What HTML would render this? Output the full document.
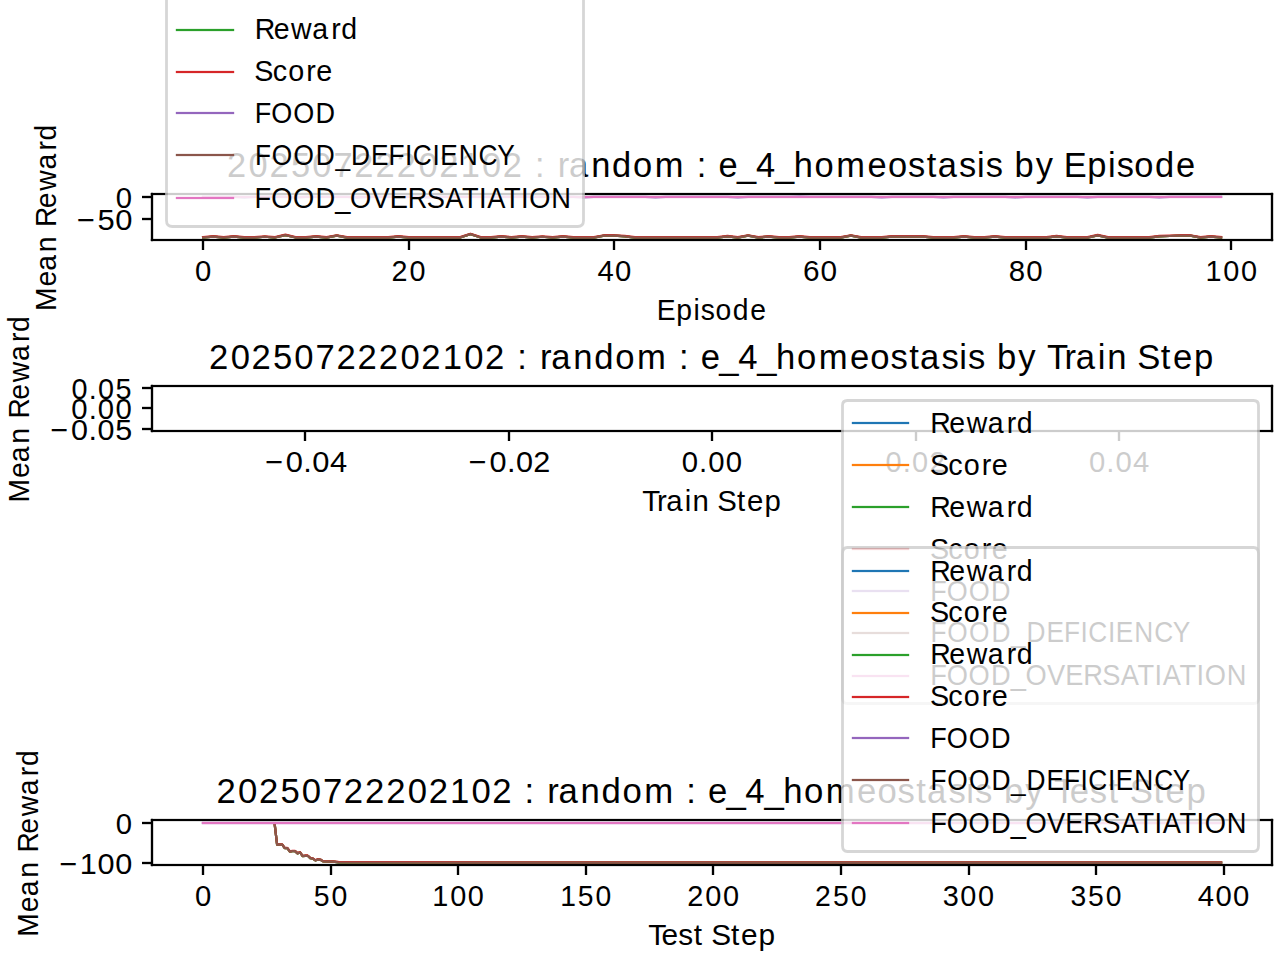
<!DOCTYPE html>
<html><head><meta charset="utf-8"><title>20250722202102 : random : e_4_homeostasis</title>
<style>html,body{margin:0;padding:0;background:#fff;width:1280px;height:960px;overflow:hidden}
svg text{font-family:"Liberation Sans", sans-serif;font-kerning:none}</style></head>
<body>

<svg width="1280" height="960" viewBox="0 0 460.8 345.6" style="display:block">
<defs>
<style type="text/css">*{stroke-linejoin: round; stroke-linecap: butt}</style>
</defs>
<g>
<g>
<path d="M 0 345.6
L 460.8 345.6
L 460.8 0
L 0 0
z
" style="fill: #ffffff"/>
</g>
<g>
<g>
<path d="M 54.792 86.364
L 457.92 86.364
L 457.92 69.804
L 54.792 69.804
z
" style="fill: #ffffff"/>
</g>
<g>
<g>
<g>
<g>
<path d="M 73.080 86.400 L 73.080 90.000" style="stroke: #000000; stroke-width: 0.8"/><path d="M 73.080 86.400 L 73.080 90.000" style="stroke: #000000; stroke-width: 0.82; stroke-opacity: 0.44"/>
</g>
</g>
<g>
<text style="font-size:10.700px" x="-2.992" y="0.000" transform="translate(73.116 101.284) rotate(-0) scale(0.985 1)">0</text>
</g>
</g>
<g>
<g>
<g>
<path d="M 147.240 86.400 L 147.240 90.000" style="stroke: #000000; stroke-width: 0.8"/><path d="M 147.240 86.400 L 147.240 90.000" style="stroke: #000000; stroke-width: 0.82; stroke-opacity: 0.44"/>
</g>
</g>
<g>
<text style="font-size:10.700px" x="-6.406 0.297" y="0.000" transform="translate(147.152 101.284) rotate(-0) scale(0.967 1)">20</text>
</g>
</g>
<g>
<g>
<g>
<path d="M 221.040 86.400 L 221.040 90.000" style="stroke: #000000; stroke-width: 0.8"/><path d="M 221.040 86.400 L 221.040 90.000" style="stroke: #000000; stroke-width: 0.82; stroke-opacity: 0.44"/>
</g>
</g>
<g>
<text style="font-size:10.700px" x="-6.213 0.239" y="0.000" transform="translate(221.189 101.284) rotate(-0) scale(0.985 1)">40</text>
</g>
</g>
<g>
<g>
<g>
<path d="M 295.200 86.400 L 295.200 90.000" style="stroke: #000000; stroke-width: 0.8"/><path d="M 295.200 86.400 L 295.200 90.000" style="stroke: #000000; stroke-width: 0.82; stroke-opacity: 0.44"/>
</g>
</g>
<g>
<text style="font-size:10.700px" x="-6.158 0.185" y="0.000" transform="translate(295.225 101.284) rotate(-0) scale(1.002 1)">60</text>
</g>
</g>
<g>
<g>
<g>
<path d="M 369.360 86.400 L 369.360 90.000" style="stroke: #000000; stroke-width: 0.8"/><path d="M 369.360 86.400 L 369.360 90.000" style="stroke: #000000; stroke-width: 0.82; stroke-opacity: 0.44"/>
</g>
</g>
<g>
<text style="font-size:10.700px" x="-6.195 0.222" y="0.000" transform="translate(369.261 101.284) rotate(-0) scale(0.990 1)">80</text>
</g>
</g>
<g>
<g>
<g>
<path d="M 443.160 86.400 L 443.160 90.000" style="stroke: #000000; stroke-width: 0.8"/><path d="M 443.160 86.400 L 443.160 90.000" style="stroke: #000000; stroke-width: 0.82; stroke-opacity: 0.44"/>
</g>
</g>
<g>
<text style="font-size:10.700px" x="-9.600 -3.004 3.539" y="0.000" transform="translate(443.298 101.284) rotate(-0) scale(0.971 1)">100</text>
</g>
</g>
<g>
<text style="font-size:10.700px" x="-20.869 -13.539 -7.035 -4.267 1.300 7.764 14.402" y="0.000" transform="translate(256.356 115.364) rotate(-0) scale(0.953 1)">Episode</text>
</g>
</g>
<g>
<g>
<g>
<g>
<path d="M 54.720 78.840 L 51.120 78.840" style="stroke: #000000; stroke-width: 0.8"/><path d="M 54.720 78.840 L 51.120 78.840" style="stroke: #000000; stroke-width: 0.82; stroke-opacity: 0.44"/>
</g>
</g>
<g>
<text style="font-size:10.700px" x="-19.378 -12.192 -6.050" y="0.000" transform="translate(47.792 82.841) rotate(-0) scale(1.040 1)">−50</text>
</g>
</g>
<g>
<g>
<g>
<path d="M 54.720 70.920 L 51.120 70.920" style="stroke: #000000; stroke-width: 0.8"/><path d="M 54.720 70.920 L 51.120 70.920" style="stroke: #000000; stroke-width: 0.82; stroke-opacity: 0.44"/>
</g>
</g>
<g>
<text style="font-size:10.700px" x="-6.235" y="0.000" transform="translate(47.792 74.846) rotate(-0) scale(0.985 1)">0</text>
</g>
</g>
<g>
<text style="font-size:10.700px" x="-35.637 -26.383 -20.349 -13.396 -6.938 -3.826 3.311 9.918 17.928 25.093 28.922" y="-0.360" transform="translate(20.527 78.084) rotate(-90) scale(0.951 1)">Mean Reward</text>
</g>
</g>
<g>
<path d="M 73.116 85.516
L 76.817 85.180
L 80.519 85.516
L 84.221 85.180
L 87.923 85.516
L 91.625 85.516
L 95.326 85.236
L 99.028 85.516
L 102.730 84.621
L 106.432 85.516
L 110.134 85.516
L 113.836 85.180
L 117.537 85.516
L 121.239 84.845
L 124.941 85.516
L 128.643 85.516
L 132.345 85.516
L 136.046 85.516
L 139.748 85.516
L 143.450 85.180
L 147.152 85.516
L 150.854 85.516
L 154.556 85.516
L 158.257 85.516
L 161.959 85.516
L 165.661 85.516
L 169.363 84.285
L 173.065 85.516
L 176.766 85.516
L 180.468 85.180
L 184.170 85.516
L 187.872 85.180
L 191.574 85.516
L 195.276 85.236
L 198.977 85.516
L 202.679 85.180
L 206.381 85.516
L 210.083 85.516
L 213.785 85.516
L 217.486 84.845
L 221.188 84.845
L 224.890 85.068
L 228.592 85.516
L 232.294 85.516
L 235.996 85.516
L 239.697 85.516
L 243.399 85.516
L 247.101 85.516
L 250.803 85.516
L 254.505 85.516
L 258.206 85.516
L 261.908 85.068
L 265.610 85.516
L 269.312 84.845
L 273.014 85.516
L 276.716 85.180
L 280.417 85.516
L 284.119 85.516
L 287.821 85.180
L 291.523 85.516
L 295.225 85.516
L 298.926 85.516
L 302.628 85.516
L 306.330 84.845
L 310.032 85.516
L 313.734 85.516
L 317.436 85.516
L 321.137 85.180
L 324.839 85.180
L 328.541 85.180
L 332.243 85.180
L 335.945 85.516
L 339.646 85.516
L 343.348 85.516
L 347.050 85.180
L 350.752 85.516
L 354.454 85.516
L 358.156 85.180
L 361.857 85.516
L 365.559 85.516
L 369.261 85.516
L 372.963 85.516
L 376.665 85.516
L 380.366 85.068
L 384.068 85.516
L 387.770 85.516
L 391.472 85.516
L 395.174 84.733
L 398.876 85.516
L 402.577 85.516
L 406.279 85.516
L 409.981 85.516
L 413.683 85.516
L 417.385 85.068
L 421.086 84.956
L 424.788 84.845
L 428.490 84.845
L 432.192 85.516
L 435.894 85.180
L 439.596 85.516
" clip-path="url(#p5f2e82f7fc)" style="fill: none; stroke: #1f77b4; stroke-width: 0.8; stroke-linecap: square"/>
</g>
<g>
<path d="M 73.116 85.516
L 76.817 85.180
L 80.519 85.516
L 84.221 85.180
L 87.923 85.516
L 91.625 85.516
L 95.326 85.236
L 99.028 85.516
L 102.730 84.621
L 106.432 85.516
L 110.134 85.516
L 113.836 85.180
L 117.537 85.516
L 121.239 84.845
L 124.941 85.516
L 128.643 85.516
L 132.345 85.516
L 136.046 85.516
L 139.748 85.516
L 143.450 85.180
L 147.152 85.516
L 150.854 85.516
L 154.556 85.516
L 158.257 85.516
L 161.959 85.516
L 165.661 85.516
L 169.363 84.285
L 173.065 85.516
L 176.766 85.516
L 180.468 85.180
L 184.170 85.516
L 187.872 85.180
L 191.574 85.516
L 195.276 85.236
L 198.977 85.516
L 202.679 85.180
L 206.381 85.516
L 210.083 85.516
L 213.785 85.516
L 217.486 84.845
L 221.188 84.845
L 224.890 85.068
L 228.592 85.516
L 232.294 85.516
L 235.996 85.516
L 239.697 85.516
L 243.399 85.516
L 247.101 85.516
L 250.803 85.516
L 254.505 85.516
L 258.206 85.516
L 261.908 85.068
L 265.610 85.516
L 269.312 84.845
L 273.014 85.516
L 276.716 85.180
L 280.417 85.516
L 284.119 85.516
L 287.821 85.180
L 291.523 85.516
L 295.225 85.516
L 298.926 85.516
L 302.628 85.516
L 306.330 84.845
L 310.032 85.516
L 313.734 85.516
L 317.436 85.516
L 321.137 85.180
L 324.839 85.180
L 328.541 85.180
L 332.243 85.180
L 335.945 85.516
L 339.646 85.516
L 343.348 85.516
L 347.050 85.180
L 350.752 85.516
L 354.454 85.516
L 358.156 85.180
L 361.857 85.516
L 365.559 85.516
L 369.261 85.516
L 372.963 85.516
L 376.665 85.516
L 380.366 85.068
L 384.068 85.516
L 387.770 85.516
L 391.472 85.516
L 395.174 84.733
L 398.876 85.516
L 402.577 85.516
L 406.279 85.516
L 409.981 85.516
L 413.683 85.516
L 417.385 85.068
L 421.086 84.956
L 424.788 84.845
L 428.490 84.845
L 432.192 85.516
L 435.894 85.180
L 439.596 85.516
" clip-path="url(#p5f2e82f7fc)" style="fill: none; stroke: #ff7f0e; stroke-width: 0.8; stroke-linecap: square"/>
</g>
<g>
<path d="M 73.116 85.516
L 76.817 85.180
L 80.519 85.516
L 84.221 85.180
L 87.923 85.516
L 91.625 85.516
L 95.326 85.236
L 99.028 85.516
L 102.730 84.621
L 106.432 85.516
L 110.134 85.516
L 113.836 85.180
L 117.537 85.516
L 121.239 84.845
L 124.941 85.516
L 128.643 85.516
L 132.345 85.516
L 136.046 85.516
L 139.748 85.516
L 143.450 85.180
L 147.152 85.516
L 150.854 85.516
L 154.556 85.516
L 158.257 85.516
L 161.959 85.516
L 165.661 85.516
L 169.363 84.285
L 173.065 85.516
L 176.766 85.516
L 180.468 85.180
L 184.170 85.516
L 187.872 85.180
L 191.574 85.516
L 195.276 85.236
L 198.977 85.516
L 202.679 85.180
L 206.381 85.516
L 210.083 85.516
L 213.785 85.516
L 217.486 84.845
L 221.188 84.845
L 224.890 85.068
L 228.592 85.516
L 232.294 85.516
L 235.996 85.516
L 239.697 85.516
L 243.399 85.516
L 247.101 85.516
L 250.803 85.516
L 254.505 85.516
L 258.206 85.516
L 261.908 85.068
L 265.610 85.516
L 269.312 84.845
L 273.014 85.516
L 276.716 85.180
L 280.417 85.516
L 284.119 85.516
L 287.821 85.180
L 291.523 85.516
L 295.225 85.516
L 298.926 85.516
L 302.628 85.516
L 306.330 84.845
L 310.032 85.516
L 313.734 85.516
L 317.436 85.516
L 321.137 85.180
L 324.839 85.180
L 328.541 85.180
L 332.243 85.180
L 335.945 85.516
L 339.646 85.516
L 343.348 85.516
L 347.050 85.180
L 350.752 85.516
L 354.454 85.516
L 358.156 85.180
L 361.857 85.516
L 365.559 85.516
L 369.261 85.516
L 372.963 85.516
L 376.665 85.516
L 380.366 85.068
L 384.068 85.516
L 387.770 85.516
L 391.472 85.516
L 395.174 84.733
L 398.876 85.516
L 402.577 85.516
L 406.279 85.516
L 409.981 85.516
L 413.683 85.516
L 417.385 85.068
L 421.086 84.956
L 424.788 84.845
L 428.490 84.845
L 432.192 85.516
L 435.894 85.180
L 439.596 85.516
" clip-path="url(#p5f2e82f7fc)" style="fill: none; stroke: #2ca02c; stroke-width: 0.8; stroke-linecap: square"/>
</g>
<g>
<path d="M 73.116 85.356
L 76.817 85.020
L 80.519 85.356
L 84.221 85.020
L 87.923 85.356
L 91.625 85.356
L 95.326 85.076
L 99.028 85.356
L 102.730 84.461
L 106.432 85.356
L 110.134 85.356
L 113.836 85.020
L 117.537 85.356
L 121.239 84.685
L 124.941 85.356
L 128.643 85.356
L 132.345 85.356
L 136.046 85.356
L 139.748 85.356
L 143.450 85.020
L 147.152 85.356
L 150.854 85.356
L 154.556 85.356
L 158.257 85.356
L 161.959 85.356
L 165.661 85.356
L 169.363 84.125
L 173.065 85.356
L 176.766 85.356
L 180.468 85.020
L 184.170 85.356
L 187.872 85.020
L 191.574 85.356
L 195.276 85.076
L 198.977 85.356
L 202.679 85.020
L 206.381 85.356
L 210.083 85.356
L 213.785 85.356
L 217.486 84.685
L 221.188 84.685
L 224.890 84.908
L 228.592 85.356
L 232.294 85.356
L 235.996 85.356
L 239.697 85.356
L 243.399 85.356
L 247.101 85.356
L 250.803 85.356
L 254.505 85.356
L 258.206 85.356
L 261.908 84.908
L 265.610 85.356
L 269.312 84.685
L 273.014 85.356
L 276.716 85.020
L 280.417 85.356
L 284.119 85.356
L 287.821 85.020
L 291.523 85.356
L 295.225 85.356
L 298.926 85.356
L 302.628 85.356
L 306.330 84.685
L 310.032 85.356
L 313.734 85.356
L 317.436 85.356
L 321.137 85.020
L 324.839 85.020
L 328.541 85.020
L 332.243 85.020
L 335.945 85.356
L 339.646 85.356
L 343.348 85.356
L 347.050 85.020
L 350.752 85.356
L 354.454 85.356
L 358.156 85.020
L 361.857 85.356
L 365.559 85.356
L 369.261 85.356
L 372.963 85.356
L 376.665 85.356
L 380.366 84.908
L 384.068 85.356
L 387.770 85.356
L 391.472 85.356
L 395.174 84.573
L 398.876 85.356
L 402.577 85.356
L 406.279 85.356
L 409.981 85.356
L 413.683 85.356
L 417.385 84.908
L 421.086 84.797
L 424.788 84.685
L 428.490 84.685
L 432.192 85.356
L 435.894 85.020
L 439.596 85.356
" clip-path="url(#p5f2e82f7fc)" style="fill: none; stroke: #d62728; stroke-width: 0.8; stroke-linecap: square"/>
</g>
<g>
<path d="M 73.116 70.886
L 76.817 70.886
L 80.519 70.886
L 84.221 70.886
L 87.923 71.078
L 91.625 70.886
L 95.326 70.886
L 99.028 70.886
L 102.730 70.886
L 106.432 71.046
L 110.134 70.886
L 113.836 70.886
L 117.537 70.886
L 121.239 70.886
L 124.941 70.886
L 128.643 71.094
L 132.345 70.886
L 136.046 70.886
L 139.748 70.886
L 143.450 70.886
L 147.152 70.886
L 150.854 70.886
L 154.556 71.062
L 158.257 70.886
L 161.959 70.886
L 165.661 70.886
L 169.363 70.886
L 173.065 70.886
L 176.766 70.886
L 180.468 70.886
L 184.170 70.886
L 187.872 70.758
L 191.574 70.886
L 195.276 70.886
L 198.977 70.886
L 202.679 70.886
L 206.381 70.886
L 210.083 71.078
L 213.785 70.886
L 217.486 70.886
L 221.188 70.886
L 224.890 70.886
L 228.592 70.886
L 232.294 70.886
L 235.996 71.046
L 239.697 70.886
L 243.399 70.886
L 247.101 70.886
L 250.803 70.886
L 254.505 70.886
L 258.206 70.886
L 261.908 70.886
L 265.610 71.094
L 269.312 70.886
L 273.014 70.886
L 276.716 70.886
L 280.417 70.886
L 284.119 70.886
L 287.821 70.742
L 291.523 70.886
L 295.225 70.886
L 298.926 70.886
L 302.628 70.886
L 306.330 70.886
L 310.032 70.886
L 313.734 70.886
L 317.436 71.062
L 321.137 70.886
L 324.839 70.886
L 328.541 70.886
L 332.243 70.886
L 335.945 70.886
L 339.646 71.078
L 343.348 70.886
L 347.050 70.886
L 350.752 70.886
L 354.454 70.886
L 358.156 70.886
L 361.857 70.886
L 365.559 71.046
L 369.261 70.886
L 372.963 70.886
L 376.665 70.886
L 380.366 70.886
L 384.068 70.886
L 387.770 70.886
L 391.472 71.078
L 395.174 70.886
L 398.876 70.886
L 402.577 70.886
L 406.279 70.886
L 409.981 70.886
L 413.683 70.886
L 417.385 71.062
L 421.086 70.886
L 424.788 70.886
L 428.490 70.886
L 432.192 70.886
L 435.894 70.886
L 439.596 70.886
" clip-path="url(#p5f2e82f7fc)" style="fill: none; stroke: #9467bd; stroke-width: 0.8; stroke-linecap: square"/>
</g>
<g>
<path d="M 73.116 85.516
L 76.817 85.180
L 80.519 85.516
L 84.221 85.180
L 87.923 85.516
L 91.625 85.516
L 95.326 85.236
L 99.028 85.516
L 102.730 84.621
L 106.432 85.516
L 110.134 85.516
L 113.836 85.180
L 117.537 85.516
L 121.239 84.845
L 124.941 85.516
L 128.643 85.516
L 132.345 85.516
L 136.046 85.516
L 139.748 85.516
L 143.450 85.180
L 147.152 85.516
L 150.854 85.516
L 154.556 85.516
L 158.257 85.516
L 161.959 85.516
L 165.661 85.516
L 169.363 84.285
L 173.065 85.516
L 176.766 85.516
L 180.468 85.180
L 184.170 85.516
L 187.872 85.180
L 191.574 85.516
L 195.276 85.236
L 198.977 85.516
L 202.679 85.180
L 206.381 85.516
L 210.083 85.516
L 213.785 85.516
L 217.486 84.845
L 221.188 84.845
L 224.890 85.068
L 228.592 85.516
L 232.294 85.516
L 235.996 85.516
L 239.697 85.516
L 243.399 85.516
L 247.101 85.516
L 250.803 85.516
L 254.505 85.516
L 258.206 85.516
L 261.908 85.068
L 265.610 85.516
L 269.312 84.845
L 273.014 85.516
L 276.716 85.180
L 280.417 85.516
L 284.119 85.516
L 287.821 85.180
L 291.523 85.516
L 295.225 85.516
L 298.926 85.516
L 302.628 85.516
L 306.330 84.845
L 310.032 85.516
L 313.734 85.516
L 317.436 85.516
L 321.137 85.180
L 324.839 85.180
L 328.541 85.180
L 332.243 85.180
L 335.945 85.516
L 339.646 85.516
L 343.348 85.516
L 347.050 85.180
L 350.752 85.516
L 354.454 85.516
L 358.156 85.180
L 361.857 85.516
L 365.559 85.516
L 369.261 85.516
L 372.963 85.516
L 376.665 85.516
L 380.366 85.068
L 384.068 85.516
L 387.770 85.516
L 391.472 85.516
L 395.174 84.733
L 398.876 85.516
L 402.577 85.516
L 406.279 85.516
L 409.981 85.516
L 413.683 85.516
L 417.385 85.068
L 421.086 84.956
L 424.788 84.845
L 428.490 84.845
L 432.192 85.516
L 435.894 85.180
L 439.596 85.516
" clip-path="url(#p5f2e82f7fc)" style="fill: none; stroke: #8c564b; stroke-width: 0.8; stroke-linecap: square"/>
</g>
<g>
<path d="M 73.080 70.920 L 76.680 70.920 L 80.640 70.920 L 84.240 70.920 L 87.840 70.920 L 91.800 70.920 L 95.400 70.920 L 99.000 70.920 L 102.600 70.920 L 106.560 70.920 L 110.160 70.920 L 113.760 70.920 L 117.360 70.920 L 121.320 70.920 L 124.920 70.920 L 128.520 70.920 L 132.480 70.920 L 136.080 70.920 L 139.680 70.920 L 143.280 70.920 L 147.240 70.920 L 150.840 70.920 L 154.440 70.920 L 158.400 70.920 L 162.000 70.920 L 165.600 70.920 L 169.200 70.920 L 173.160 70.920 L 176.760 70.920 L 180.360 70.920 L 184.320 70.920 L 187.920 70.920 L 191.520 70.920 L 195.120 70.920 L 199.080 70.920 L 202.680 70.920 L 206.280 70.920 L 210.240 70.920 L 213.840 70.920 L 217.440 70.920 L 221.040 70.920 L 225.000 70.920 L 228.600 70.920 L 232.200 70.920 L 236.160 70.920 L 239.760 70.920 L 243.360 70.920 L 246.960 70.920 L 250.920 70.920 L 254.520 70.920 L 258.120 70.920 L 262.080 70.920 L 265.680 70.920 L 269.280 70.920 L 272.880 70.920 L 276.840 70.920 L 280.440 70.920 L 284.040 70.920 L 288.000 70.920 L 291.600 70.920 L 295.200 70.920 L 298.800 70.920 L 302.760 70.920 L 306.360 70.920 L 309.960 70.920 L 313.560 70.920 L 317.520 70.920 L 321.120 70.920 L 324.720 70.920 L 328.680 70.920 L 332.280 70.920 L 335.880 70.920 L 339.480 70.920 L 343.440 70.920 L 347.040 70.920 L 350.640 70.920 L 354.600 70.920 L 358.200 70.920 L 361.800 70.920 L 365.400 70.920 L 369.360 70.920 L 372.960 70.920 L 376.560 70.920 L 380.520 70.920 L 384.120 70.920 L 387.720 70.920 L 391.320 70.920 L 395.280 70.920 L 398.880 70.920 L 402.480 70.920 L 406.440 70.920 L 410.040 70.920 L 413.640 70.920 L 417.240 70.920 L 421.200 70.920 L 424.800 70.920 L 428.400 70.920 L 432.360 70.920 L 435.960 70.920 L 439.560 70.920" clip-path="url(#p5f2e82f7fc)" style="fill: none; stroke: #e377c2; stroke-width: 0.8; stroke-linecap: square"/><path d="M 73.080 70.920 L 76.680 70.920 L 80.640 70.920 L 84.240 70.920 L 87.840 70.920 L 91.800 70.920 L 95.400 70.920 L 99.000 70.920 L 102.600 70.920 L 106.560 70.920 L 110.160 70.920 L 113.760 70.920 L 117.360 70.920 L 121.320 70.920 L 124.920 70.920 L 128.520 70.920 L 132.480 70.920 L 136.080 70.920 L 139.680 70.920 L 143.280 70.920 L 147.240 70.920 L 150.840 70.920 L 154.440 70.920 L 158.400 70.920 L 162.000 70.920 L 165.600 70.920 L 169.200 70.920 L 173.160 70.920 L 176.760 70.920 L 180.360 70.920 L 184.320 70.920 L 187.920 70.920 L 191.520 70.920 L 195.120 70.920 L 199.080 70.920 L 202.680 70.920 L 206.280 70.920 L 210.240 70.920 L 213.840 70.920 L 217.440 70.920 L 221.040 70.920 L 225.000 70.920 L 228.600 70.920 L 232.200 70.920 L 236.160 70.920 L 239.760 70.920 L 243.360 70.920 L 246.960 70.920 L 250.920 70.920 L 254.520 70.920 L 258.120 70.920 L 262.080 70.920 L 265.680 70.920 L 269.280 70.920 L 272.880 70.920 L 276.840 70.920 L 280.440 70.920 L 284.040 70.920 L 288.000 70.920 L 291.600 70.920 L 295.200 70.920 L 298.800 70.920 L 302.760 70.920 L 306.360 70.920 L 309.960 70.920 L 313.560 70.920 L 317.520 70.920 L 321.120 70.920 L 324.720 70.920 L 328.680 70.920 L 332.280 70.920 L 335.880 70.920 L 339.480 70.920 L 343.440 70.920 L 347.040 70.920 L 350.640 70.920 L 354.600 70.920 L 358.200 70.920 L 361.800 70.920 L 365.400 70.920 L 369.360 70.920 L 372.960 70.920 L 376.560 70.920 L 380.520 70.920 L 384.120 70.920 L 387.720 70.920 L 391.320 70.920 L 395.280 70.920 L 398.880 70.920 L 402.480 70.920 L 406.440 70.920 L 410.040 70.920 L 413.640 70.920 L 417.240 70.920 L 421.200 70.920 L 424.800 70.920 L 428.400 70.920 L 432.360 70.920 L 435.960 70.920 L 439.560 70.920" clip-path="url(#p5f2e82f7fc)" style="fill: none; stroke: #e377c2; stroke-width: 0.82; stroke-linecap: square; stroke-opacity: 0.44"/>
</g>
<g>
<path d="M 54.720 86.400 L 54.720 69.840" style="fill: none; stroke: #000000; stroke-width: 0.8; stroke-linejoin: miter; stroke-linecap: square"/><path d="M 54.720 86.400 L 54.720 69.840" style="fill: none; stroke: #000000; stroke-width: 0.82; stroke-linejoin: miter; stroke-linecap: square; stroke-opacity: 0.44"/>
</g>
<g>
<path d="M 457.920 86.400 L 457.920 69.840" style="fill: none; stroke: #000000; stroke-width: 0.8; stroke-linejoin: miter; stroke-linecap: square"/><path d="M 457.920 86.400 L 457.920 69.840" style="fill: none; stroke: #000000; stroke-width: 0.82; stroke-linejoin: miter; stroke-linecap: square; stroke-opacity: 0.44"/>
</g>
<g>
<path d="M 54.720 86.400 L 457.920 86.400" style="fill: none; stroke: #000000; stroke-width: 0.8; stroke-linejoin: miter; stroke-linecap: square"/><path d="M 54.720 86.400 L 457.920 86.400" style="fill: none; stroke: #000000; stroke-width: 0.82; stroke-linejoin: miter; stroke-linecap: square; stroke-opacity: 0.44"/>
</g>
<g>
<path d="M 54.720 69.840 L 457.920 69.840" style="fill: none; stroke: #000000; stroke-width: 0.8; stroke-linejoin: miter; stroke-linecap: square"/><path d="M 54.720 69.840 L 457.920 69.840" style="fill: none; stroke: #000000; stroke-width: 0.82; stroke-linejoin: miter; stroke-linecap: square; stroke-opacity: 0.44"/>
</g>
<g>
<text style="font-size:12.840px" x="-180.807 -172.734 -164.989 -156.964 -149.007 -141.122 -133.352 -125.443 -117.534 -109.462 -101.716 -93.707 -85.735 -77.989 -70.103 -66.030 -61.963 -57.543 -53.321 -45.082 -37.301 -29.473 -21.365 -9.799 -5.726 -1.659 2.376 9.309 16.341 23.434 30.463 38.200 46.308 57.958 65.563 73.049 80.033 84.059 92.017 98.688 101.948 108.503 112.715 120.616 127.702 131.065 139.768 147.514 150.774 157.370 165.038 172.909" y="0.000" transform="translate(256.356 63.804) rotate(-0) scale(0.966 1)">20250722202102 : random : e_4_homeostasis by Episode</text>
</g>
<g>
<g>
<path d="M 62.100 81.540
L 207.900 81.540
Q 210.060 81.540 210.060 79.380
L 210.060 -25.740
Q 210.060 -27.900 207.900 -27.900
L 62.100 -27.900
Q 59.940 -27.900 59.940 -25.740
L 59.940 79.380
Q 59.940 81.540 62.100 81.540
z
" style="fill: #ffffff; opacity: 0.8; stroke: #cccccc; stroke-linejoin: miter"/>
</g>
<g>
<path style="fill: none; stroke: #1f77b4; stroke-width: 0.8; stroke-linecap: square"/>
</g>
<g>
<text style="font-size:10.700px" x="-0.068 7.026 13.581 21.540 28.663 32.460" y="0.000" transform="translate(91.792 -15.996) rotate(-0) scale(0.958 1)">Reward</text>
</g>
<g>
<path style="fill: none; stroke: #ff7f0e; stroke-width: 0.8; stroke-linecap: square"/>
</g>
<g>
<text style="font-size:10.700px" x="-0.231 6.602 12.426 19.102 22.795" y="0.000" transform="translate(91.792 -0.916) rotate(-0) scale(0.967 1)">Score</text>
</g>
<g>
<path d="M 63.720 10.800 L 73.800 10.800 L 83.880 10.800" style="fill: none; stroke: #2ca02c; stroke-width: 0.8; stroke-linecap: square"/><path d="M 63.720 10.800 L 73.800 10.800 L 83.880 10.800" style="fill: none; stroke: #2ca02c; stroke-width: 0.82; stroke-linecap: square; stroke-opacity: 0.44"/>
</g>
<g>
<text style="font-size:10.700px" x="-0.068 7.026 13.581 21.540 28.663 32.460" y="0.000" transform="translate(91.792 14.164) rotate(-0) scale(0.958 1)">Reward</text>
</g>
<g>
<path d="M 63.720 25.920 L 73.800 25.920 L 83.880 25.920" style="fill: none; stroke: #d62728; stroke-width: 0.8; stroke-linecap: square"/><path d="M 63.720 25.920 L 73.800 25.920 L 83.880 25.920" style="fill: none; stroke: #d62728; stroke-width: 0.82; stroke-linecap: square; stroke-opacity: 0.44"/>
</g>
<g>
<text style="font-size:10.700px" x="-0.231 6.602 12.426 19.102 22.795" y="0.000" transform="translate(91.792 29.244) rotate(-0) scale(0.967 1)">Score</text>
</g>
<g>
<path d="M 63.720 40.680 L 73.800 40.680 L 83.880 40.680" style="fill: none; stroke: #9467bd; stroke-width: 0.8; stroke-linecap: square"/><path d="M 63.720 40.680 L 73.800 40.680 L 83.880 40.680" style="fill: none; stroke: #9467bd; stroke-width: 0.82; stroke-linecap: square; stroke-opacity: 0.44"/>
</g>
<g>
<text style="font-size:10.700px" x="-0.111 6.483 15.126 24.002" y="0.000" transform="translate(91.792 44.324) rotate(-0) scale(0.909 1)">FOOD</text>
</g>
<g>
<path d="M 63.720 55.800 L 73.800 55.800 L 83.880 55.800" style="fill: none; stroke: #8c564b; stroke-width: 0.8; stroke-linecap: square"/><path d="M 63.720 55.800 L 73.800 55.800 L 83.880 55.800" style="fill: none; stroke: #8c564b; stroke-width: 0.82; stroke-linecap: square; stroke-opacity: 0.44"/>
</g>
<g>
<text style="font-size:10.700px" x="-0.016 6.784 15.671 24.794 32.833 39.133 47.288 54.420 61.110 64.285 72.324 75.460 82.968 91.079 98.617" y="0.000" transform="translate(91.792 59.404) rotate(-0) scale(0.884 1)">FOOD_DEFICIENCY</text>
</g>
<g>
<path d="M 63.720 71.280 L 73.800 71.280 L 83.880 71.280" style="fill: none; stroke: #e377c2; stroke-width: 0.8; stroke-linecap: square"/><path d="M 63.720 71.280 L 73.800 71.280 L 83.880 71.280" style="fill: none; stroke: #e377c2; stroke-width: 0.82; stroke-linecap: square; stroke-opacity: 0.44"/>
</g>
<g>
<text style="font-size:10.700px" x="-0.141 6.389 14.956 23.755 31.544 37.346 45.743 52.884 60.018 67.420 74.733 81.251 87.958 91.203 97.722 104.428 107.647 116.294" y="0.000" transform="translate(91.792 74.844) rotate(-0) scale(0.917 1)">FOOD_OVERSATIATION</text>
</g>
</g>
</g>
<g>
<g>
<path d="M 54.792 155.088
L 457.92 155.088
L 457.92 138.96
L 54.792 138.96
z
" style="fill: #ffffff"/>
</g>
<g>
<g>
<g>
<g>
<path d="M 109.800 155.160 L 109.800 158.760" style="stroke: #000000; stroke-width: 0.8"/><path d="M 109.800 155.160 L 109.800 158.760" style="stroke: #000000; stroke-width: 0.82; stroke-opacity: 0.44"/>
</g>
</g>
<g>
<text style="font-size:10.700px" x="-13.868 -6.630 -0.556 2.547 8.669" y="0.000" transform="translate(109.764 170.008) rotate(-0) scale(1.038 1)">−0.04</text>
</g>
</g>
<g>
<g>
<g>
<path d="M 183.240 155.160 L 183.240 158.760" style="stroke: #000000; stroke-width: 0.8"/><path d="M 183.240 155.160 L 183.240 158.760" style="stroke: #000000; stroke-width: 0.82; stroke-opacity: 0.44"/>
</g>
</g>
<g>
<text style="font-size:10.700px" x="-13.940 -6.655 -0.550 2.584 8.617" y="0.000" transform="translate(183.060 170.008) rotate(-0) scale(1.031 1)">−0.02</text>
</g>
</g>
<g>
<g>
<g>
<path d="M 256.320 155.160 L 256.320 158.760" style="stroke: #000000; stroke-width: 0.8"/><path d="M 256.320 155.160 L 256.320 158.760" style="stroke: #000000; stroke-width: 0.82; stroke-opacity: 0.44"/>
</g>
</g>
<g>
<text style="font-size:10.700px" x="-11.086 -4.772 -1.427 5.014" y="0.000" transform="translate(256.356 170.008) rotate(-0) scale(0.986 1)">0.00</text>
</g>
</g>
<g>
<g>
<g>
<path d="M 329.760 155.160 L 329.760 158.760" style="stroke: #000000; stroke-width: 0.8"/><path d="M 329.760 155.160 L 329.760 158.760" style="stroke: #000000; stroke-width: 0.82; stroke-opacity: 0.44"/>
</g>
</g>
<g>
<text style="font-size:10.700px" x="-11.152 -4.785 -1.387 4.989" y="0.000" transform="translate(329.652 170.008) rotate(-0) scale(0.976 1)">0.02</text>
</g>
</g>
<g>
<g>
<g>
<path d="M 402.840 155.160 L 402.840 158.760" style="stroke: #000000; stroke-width: 0.8"/><path d="M 402.840 155.160 L 402.840 158.760" style="stroke: #000000; stroke-width: 0.82; stroke-opacity: 0.44"/>
</g>
</g>
<g>
<text style="font-size:10.700px" x="-11.063 -4.749 -1.405 5.036" y="0.000" transform="translate(402.948 170.008) rotate(-0) scale(0.986 1)">0.04</text>
</g>
</g>
<g>
<text style="font-size:10.700px" x="-25.428 -20.089 -16.681 -10.006 -7.166 -0.889 1.901 9.091 12.743 19.105" y="0.000" transform="translate(256.356 184.088) rotate(-0) scale(0.988 1)">Train Step</text>
</g>
</g>
<g>
<g>
<g>
<g>
<path d="M 54.720 154.440 L 51.120 154.440" style="stroke: #000000; stroke-width: 0.8"/><path d="M 54.720 154.440 L 51.120 154.440" style="stroke: #000000; stroke-width: 0.82; stroke-opacity: 0.44"/>
</g>
</g>
<g>
<text style="font-size:10.700px" x="-28.950 -21.627 -15.498 -12.339 -6.183" y="0.000" transform="translate(47.792 158.315) rotate(-0) scale(1.026 1)">−0.05</text>
</g>
</g>
<g>
<g>
<g>
<path d="M 54.720 146.880 L 51.120 146.880" style="stroke: #000000; stroke-width: 0.8"/><path d="M 54.720 146.880 L 51.120 146.880" style="stroke: #000000; stroke-width: 0.82; stroke-opacity: 0.44"/>
</g>
</g>
<g>
<text style="font-size:10.700px" x="-22.418 -16.104 -12.759 -6.318" y="0.000" transform="translate(47.792 150.984) rotate(-0) scale(0.986 1)">0.00</text>
</g>
</g>
<g>
<g>
<g>
<path d="M 54.720 139.680 L 51.120 139.680" style="stroke: #000000; stroke-width: 0.8"/><path d="M 54.720 139.680 L 51.120 139.680" style="stroke: #000000; stroke-width: 0.82; stroke-opacity: 0.44"/>
</g>
</g>
<g>
<text style="font-size:10.700px" x="-22.717 -16.317 -12.887 -6.371" y="0.000" transform="translate(47.792 143.653) rotate(-0) scale(0.969 1)">0.05</text>
</g>
</g>
<g>
<text style="font-size:10.700px" x="-35.637 -26.383 -20.349 -13.396 -6.938 -3.826 3.311 9.918 17.928 25.093 28.922" y="-0.360" transform="translate(10.942 147.024) rotate(-90) scale(0.951 1)">Mean Reward</text>
</g>
</g>
<g id="line2d_31"/>
<g id="line2d_32"/>
<g id="line2d_33"/>
<g id="line2d_34"/>
<g id="line2d_35"/>
<g id="line2d_36"/>
<g id="line2d_37"/>
<g>
<path d="M 54.720 155.160 L 54.720 138.960" style="fill: none; stroke: #000000; stroke-width: 0.8; stroke-linejoin: miter; stroke-linecap: square"/><path d="M 54.720 155.160 L 54.720 138.960" style="fill: none; stroke: #000000; stroke-width: 0.82; stroke-linejoin: miter; stroke-linecap: square; stroke-opacity: 0.44"/>
</g>
<g>
<path d="M 457.920 155.160 L 457.920 138.960" style="fill: none; stroke: #000000; stroke-width: 0.8; stroke-linejoin: miter; stroke-linecap: square"/><path d="M 457.920 155.160 L 457.920 138.960" style="fill: none; stroke: #000000; stroke-width: 0.82; stroke-linejoin: miter; stroke-linecap: square; stroke-opacity: 0.44"/>
</g>
<g>
<path d="M 54.720 155.160 L 457.920 155.160" style="fill: none; stroke: #000000; stroke-width: 0.8; stroke-linejoin: miter; stroke-linecap: square"/><path d="M 54.720 155.160 L 457.920 155.160" style="fill: none; stroke: #000000; stroke-width: 0.82; stroke-linejoin: miter; stroke-linecap: square; stroke-opacity: 0.44"/>
</g>
<g>
<path d="M 54.720 138.960 L 457.920 138.960" style="fill: none; stroke: #000000; stroke-width: 0.8; stroke-linejoin: miter; stroke-linecap: square"/><path d="M 54.720 138.960 L 457.920 138.960" style="fill: none; stroke: #000000; stroke-width: 0.82; stroke-linejoin: miter; stroke-linecap: square; stroke-opacity: 0.44"/>
</g>
<g>
<text style="font-size:12.840px" x="-186.339 -178.312 -170.611 -162.633 -154.721 -146.882 -139.157 -131.293 -123.430 -115.403 -107.703 -99.740 -91.813 -84.112 -76.261 -72.211 -68.168 -63.777 -59.586 -51.394 -43.657 -35.874 -27.823 -16.303 -12.254 -8.210 -4.208 2.685 9.676 16.729 23.717 31.410 39.461 51.054 58.616 66.061 73.013 77.004 84.920 91.562 94.794 101.319 105.496 113.355 120.408 124.010 130.543 134.733 142.853 146.360 154.004 157.457 166.204 170.697 178.476" y="0.000" transform="translate(256.356 132.960) rotate(-0) scale(0.972 1)">20250722202102 : random : e_4_homeostasis by Train Step</text>
</g>
<g>
<g>
<path d="M 305.100 253.260
L 451.260 253.260
Q 453.060 253.260 453.060 251.460
L 453.060 145.980
Q 453.060 144.180 451.260 144.180
L 305.100 144.180
Q 303.300 144.180 303.300 145.980
L 303.300 251.460
Q 303.300 253.260 305.100 253.260
z
" style="fill: #ffffff; opacity: 0.8; stroke: #cccccc; stroke-linejoin: miter"/>
</g>
<g>
<path d="M 307.080 152.280 L 317.160 152.280 L 326.880 152.280" style="fill: none; stroke: #1f77b4; stroke-width: 0.8; stroke-linecap: square"/><path d="M 307.080 152.280 L 317.160 152.280 L 326.880 152.280" style="fill: none; stroke: #1f77b4; stroke-width: 0.82; stroke-linecap: square; stroke-opacity: 0.44"/>
</g>
<g>
<text style="font-size:10.700px" x="-0.068 7.026 13.581 21.540 28.663 32.460" y="0.000" transform="translate(334.980 155.880) rotate(-0) scale(0.958 1)">Reward</text>
</g>
<g>
<path d="M 307.080 167.400 L 317.160 167.400 L 326.880 167.400" style="fill: none; stroke: #ff7f0e; stroke-width: 0.8; stroke-linecap: square"/><path d="M 307.080 167.400 L 317.160 167.400 L 326.880 167.400" style="fill: none; stroke: #ff7f0e; stroke-width: 0.82; stroke-linecap: square; stroke-opacity: 0.44"/>
</g>
<g>
<text style="font-size:10.700px" x="-0.231 6.602 12.426 19.102 22.795" y="0.000" transform="translate(334.980 170.960) rotate(-0) scale(0.967 1)">Score</text>
</g>
<g>
<path d="M 307.080 182.520 L 317.160 182.520 L 326.880 182.520" style="fill: none; stroke: #2ca02c; stroke-width: 0.8; stroke-linecap: square"/><path d="M 307.080 182.520 L 317.160 182.520 L 326.880 182.520" style="fill: none; stroke: #2ca02c; stroke-width: 0.82; stroke-linecap: square; stroke-opacity: 0.44"/>
</g>
<g>
<text style="font-size:10.700px" x="-0.068 7.026 13.581 21.540 28.663 32.460" y="0.000" transform="translate(334.980 186.040) rotate(-0) scale(0.958 1)">Reward</text>
</g>
<g>
<path d="M 307.080 197.640 L 317.160 197.640 L 326.880 197.640" style="fill: none; stroke: #d62728; stroke-width: 0.8; stroke-linecap: square"/><path d="M 307.080 197.640 L 317.160 197.640 L 326.880 197.640" style="fill: none; stroke: #d62728; stroke-width: 0.82; stroke-linecap: square; stroke-opacity: 0.44"/>
</g>
<g>
<text style="font-size:10.700px" x="-0.231 6.602 12.426 19.102 22.795" y="0.000" transform="translate(334.980 201.120) rotate(-0) scale(0.967 1)">Score</text>
</g>
<g>
<path d="M 307.080 212.760 L 317.160 212.760 L 326.880 212.760" style="fill: none; stroke: #9467bd; stroke-width: 0.8; stroke-linecap: square"/><path d="M 307.080 212.760 L 317.160 212.760 L 326.880 212.760" style="fill: none; stroke: #9467bd; stroke-width: 0.82; stroke-linecap: square; stroke-opacity: 0.44"/>
</g>
<g>
<text style="font-size:10.700px" x="-0.111 6.483 15.126 24.002" y="0.000" transform="translate(334.980 216.200) rotate(-0) scale(0.909 1)">FOOD</text>
</g>
<g>
<path d="M 307.080 227.880 L 317.160 227.880 L 326.880 227.880" style="fill: none; stroke: #8c564b; stroke-width: 0.8; stroke-linecap: square"/><path d="M 307.080 227.880 L 317.160 227.880 L 326.880 227.880" style="fill: none; stroke: #8c564b; stroke-width: 0.82; stroke-linecap: square; stroke-opacity: 0.44"/>
</g>
<g>
<text style="font-size:10.700px" x="-0.016 6.784 15.671 24.794 32.833 39.133 47.288 54.420 61.110 64.285 72.324 75.460 82.968 91.079 98.617" y="0.000" transform="translate(334.980 231.280) rotate(-0) scale(0.884 1)">FOOD_DEFICIENCY</text>
</g>
<g>
<path d="M 307.080 243.360 L 317.160 243.360 L 326.880 243.360" style="fill: none; stroke: #e377c2; stroke-width: 0.8; stroke-linecap: square"/><path d="M 307.080 243.360 L 317.160 243.360 L 326.880 243.360" style="fill: none; stroke: #e377c2; stroke-width: 0.82; stroke-linecap: square; stroke-opacity: 0.44"/>
</g>
<g>
<text style="font-size:10.700px" x="-0.141 6.389 14.956 23.755 31.544 37.346 45.743 52.884 60.018 67.420 74.733 81.251 87.958 91.203 97.722 104.428 107.647 116.294" y="0.000" transform="translate(334.980 246.720) rotate(-0) scale(0.917 1)">FOOD_OVERSATIATION</text>
</g>
</g>
</g>
<g>
<g>
<path d="M 54.792 311.364
L 457.92 311.364
L 457.92 295.236
L 54.792 295.236
z
" style="fill: #ffffff"/>
</g>
<g>
<g>
<g>
<g>
<path d="M 73.080 311.400 L 73.080 315.000" style="stroke: #000000; stroke-width: 0.8"/><path d="M 73.080 311.400 L 73.080 315.000" style="stroke: #000000; stroke-width: 0.82; stroke-opacity: 0.44"/>
</g>
</g>
<g>
<text style="font-size:10.700px" x="-2.992" y="0.000" transform="translate(73.116 326.284) rotate(-0) scale(0.985 1)">0</text>
</g>
</g>
<g>
<g>
<g>
<path d="M 119.160 311.400 L 119.160 315.000" style="stroke: #000000; stroke-width: 0.8"/><path d="M 119.160 311.400 L 119.160 315.000" style="stroke: #000000; stroke-width: 0.82; stroke-opacity: 0.44"/>
</g>
</g>
<g>
<text style="font-size:10.700px" x="-6.346 0.332" y="0.000" transform="translate(119.041 326.284) rotate(-0) scale(0.957 1)">50</text>
</g>
</g>
<g>
<g>
<g>
<path d="M 164.880 311.400 L 164.880 315.000" style="stroke: #000000; stroke-width: 0.8"/><path d="M 164.880 311.400 L 164.880 315.000" style="stroke: #000000; stroke-width: 0.82; stroke-opacity: 0.44"/>
</g>
</g>
<g>
<text style="font-size:10.700px" x="-9.600 -3.004 3.539" y="0.000" transform="translate(164.966 326.284) rotate(-0) scale(0.971 1)">100</text>
</g>
</g>
<g>
<g>
<g>
<path d="M 210.960 311.400 L 210.960 315.000" style="stroke: #000000; stroke-width: 0.8"/><path d="M 210.960 311.400 L 210.960 315.000" style="stroke: #000000; stroke-width: 0.82; stroke-opacity: 0.44"/>
</g>
</g>
<g>
<text style="font-size:10.700px" x="-9.706 -3.022 3.693" y="0.000" transform="translate(210.890 326.284) rotate(-0) scale(0.952 1)">150</text>
</g>
</g>
<g>
<g>
<g>
<path d="M 256.680 311.400 L 256.680 315.000" style="stroke: #000000; stroke-width: 0.8"/><path d="M 256.680 311.400 L 256.680 315.000" style="stroke: #000000; stroke-width: 0.82; stroke-opacity: 0.44"/>
</g>
</g>
<g>
<text style="font-size:10.700px" x="-9.667 -3.004 3.524" y="0.000" transform="translate(256.815 326.284) rotate(-0) scale(0.973 1)">200</text>
</g>
</g>
<g>
<g>
<g>
<path d="M 302.760 311.400 L 302.760 315.000" style="stroke: #000000; stroke-width: 0.8"/><path d="M 302.760 311.400 L 302.760 315.000" style="stroke: #000000; stroke-width: 0.82; stroke-opacity: 0.44"/>
</g>
</g>
<g>
<text style="font-size:10.700px" x="-9.774 -3.022 3.674" y="0.000" transform="translate(302.740 326.284) rotate(-0) scale(0.955 1)">250</text>
</g>
</g>
<g>
<g>
<g>
<path d="M 348.840 311.400 L 348.840 315.000" style="stroke: #000000; stroke-width: 0.8"/><path d="M 348.840 311.400 L 348.840 315.000" style="stroke: #000000; stroke-width: 0.82; stroke-opacity: 0.44"/>
</g>
</g>
<g>
<text style="font-size:10.700px" x="-9.551 -3.027 3.510" y="0.000" transform="translate(348.665 326.284) rotate(-0) scale(0.972 1)">300</text>
</g>
</g>
<g>
<g>
<g>
<path d="M 394.560 311.400 L 394.560 315.000" style="stroke: #000000; stroke-width: 0.8"/><path d="M 394.560 311.400 L 394.560 315.000" style="stroke: #000000; stroke-width: 0.82; stroke-opacity: 0.44"/>
</g>
</g>
<g>
<text style="font-size:10.700px" x="-9.655 -3.045 3.659" y="0.000" transform="translate(394.590 326.284) rotate(-0) scale(0.953 1)">350</text>
</g>
</g>
<g>
<g>
<g>
<path d="M 440.640 311.400 L 440.640 315.000" style="stroke: #000000; stroke-width: 0.8"/><path d="M 440.640 311.400 L 440.640 315.000" style="stroke: #000000; stroke-width: 0.82; stroke-opacity: 0.44"/>
</g>
</g>
<g>
<text style="font-size:10.700px" x="-9.456 -3.004 3.448" y="0.000" transform="translate(440.514 326.284) rotate(-0) scale(0.985 1)">400</text>
</g>
</g>
<g>
<text style="font-size:10.700px" x="-22.907 -18.199 -12.194 -6.561 -3.001 -0.287 6.823 10.395 16.655" y="0.000" transform="translate(256.356 340.364) rotate(-0) scale(1.003 1)">Test Step</text>
</g>
</g>
<g>
<g>
<g>
<g>
<path d="M 54.720 310.680 L 51.120 310.680" style="stroke: #000000; stroke-width: 0.8"/><path d="M 54.720 310.680 L 51.120 310.680" style="stroke: #000000; stroke-width: 0.82; stroke-opacity: 0.44"/>
</g>
</g>
<g>
<text style="font-size:10.700px" x="-25.714 -18.489 -12.270 -6.110" y="0.000" transform="translate(47.792 314.640) rotate(-0) scale(1.031 1)">−100</text>
</g>
</g>
<g>
<g>
<g>
<path d="M 54.720 296.280 L 51.120 296.280" style="stroke: #000000; stroke-width: 0.8"/><path d="M 54.720 296.280 L 51.120 296.280" style="stroke: #000000; stroke-width: 0.82; stroke-opacity: 0.44"/>
</g>
</g>
<g>
<text style="font-size:10.700px" x="-6.235" y="0.000" transform="translate(47.792 300.240) rotate(-0) scale(0.985 1)">0</text>
</g>
</g>
<g>
<text style="font-size:10.700px" x="-35.637 -26.383 -20.349 -13.396 -6.938 -3.826 3.311 9.918 17.928 25.093 28.922" y="-0.360" transform="translate(14.137 303.300) rotate(-90) scale(0.951 1)">Mean Reward</text>
</g>
</g>
<g>
<path d="M 73.116 296.28
L 98.833 296.28
L 99.752 304.056
L 101.589 304.056
L 102.507 305.352
L 103.426 305.352
L 104.344 306.576
L 105.263 306.432
L 106.181 306.403
L 107.100 307.224
L 108.018 306.892
L 108.937 308.232
L 109.855 308.088
L 110.774 308.088
L 111.692 308.923
L 112.611 309.096
L 113.529 309.772
L 114.448 309.384
L 115.366 309.528
L 116.285 310.104
L 119.959 310.176
L 121.796 310.420
L 179.661 310.534
L 355.094 310.564
L 439.596 310.564
L 439.596 310.564
" clip-path="url(#pecbc75f15b)" style="fill: none; stroke: #1f77b4; stroke-width: 0.8; stroke-linecap: square"/>
</g>
<g>
<path d="M 73.116 296.28
L 98.833 296.28
L 99.752 304.056
L 101.589 304.056
L 102.507 305.352
L 103.426 305.352
L 104.344 306.576
L 105.263 306.432
L 106.181 306.403
L 107.100 307.224
L 108.018 306.892
L 108.937 308.232
L 109.855 308.088
L 110.774 308.088
L 111.692 308.923
L 112.611 309.096
L 113.529 309.772
L 114.448 309.384
L 115.366 309.528
L 116.285 310.104
L 119.959 310.176
L 121.796 310.420
L 179.661 310.534
L 355.094 310.564
L 439.596 310.564
L 439.596 310.564
" clip-path="url(#pecbc75f15b)" style="fill: none; stroke: #ff7f0e; stroke-width: 0.8; stroke-linecap: square"/>
</g>
<g>
<path d="M 73.116 296.28
L 98.833 296.28
L 99.752 304.056
L 101.589 304.056
L 102.507 305.352
L 103.426 305.352
L 104.344 306.576
L 105.263 306.432
L 106.181 306.403
L 107.100 307.224
L 108.018 306.892
L 108.937 308.232
L 109.855 308.088
L 110.774 308.088
L 111.692 308.923
L 112.611 309.096
L 113.529 309.772
L 114.448 309.384
L 115.366 309.528
L 116.285 310.104
L 119.959 310.176
L 121.796 310.420
L 179.661 310.534
L 355.094 310.564
L 439.596 310.564
L 439.596 310.564
" clip-path="url(#pecbc75f15b)" style="fill: none; stroke: #2ca02c; stroke-width: 0.8; stroke-linecap: square"/>
</g>
<g>
<path d="M 73.116 296.28
L 98.833 296.28
L 99.752 303.940
L 101.589 303.940
L 102.507 305.236
L 103.426 305.236
L 104.344 306.460
L 105.263 306.316
L 106.181 306.288
L 107.100 307.108
L 108.018 306.777
L 108.937 308.116
L 109.855 307.972
L 110.774 307.972
L 111.692 308.808
L 112.611 308.980
L 113.529 309.657
L 114.448 309.268
L 115.366 309.412
L 116.285 309.988
L 119.959 310.060
L 121.796 310.305
L 179.661 310.419
L 355.094 310.449
L 439.596 310.449
L 439.596 310.449
" clip-path="url(#pecbc75f15b)" style="fill: none; stroke: #d62728; stroke-width: 0.8; stroke-linecap: square"/>
</g>
<g>
<path d="M 73.080 296.280 L 439.560 296.280 L 439.560 296.280" clip-path="url(#pecbc75f15b)" style="fill: none; stroke: #9467bd; stroke-width: 0.8; stroke-linecap: square"/><path d="M 73.080 296.280 L 439.560 296.280 L 439.560 296.280" clip-path="url(#pecbc75f15b)" style="fill: none; stroke: #9467bd; stroke-width: 0.82; stroke-linecap: square; stroke-opacity: 0.44"/>
</g>
<g>
<path d="M 73.116 296.28
L 98.833 296.28
L 99.752 304.056
L 101.589 304.056
L 102.507 305.352
L 103.426 305.352
L 104.344 306.576
L 105.263 306.432
L 106.181 306.403
L 107.100 307.224
L 108.018 306.892
L 108.937 308.232
L 109.855 308.088
L 110.774 308.088
L 111.692 308.923
L 112.611 309.096
L 113.529 309.772
L 114.448 309.384
L 115.366 309.528
L 116.285 310.104
L 119.959 310.176
L 121.796 310.420
L 179.661 310.534
L 355.094 310.564
L 439.596 310.564
L 439.596 310.564
" clip-path="url(#pecbc75f15b)" style="fill: none; stroke: #8c564b; stroke-width: 0.8; stroke-linecap: square"/>
</g>
<g>
<path d="M 73.080 296.280 L 439.560 296.280 L 439.560 296.280" clip-path="url(#pecbc75f15b)" style="fill: none; stroke: #e377c2; stroke-width: 0.8; stroke-linecap: square"/><path d="M 73.080 296.280 L 439.560 296.280 L 439.560 296.280" clip-path="url(#pecbc75f15b)" style="fill: none; stroke: #e377c2; stroke-width: 0.82; stroke-linecap: square; stroke-opacity: 0.44"/>
</g>
<g>
<path d="M 54.720 311.400 L 54.720 295.200" style="fill: none; stroke: #000000; stroke-width: 0.8; stroke-linejoin: miter; stroke-linecap: square"/><path d="M 54.720 311.400 L 54.720 295.200" style="fill: none; stroke: #000000; stroke-width: 0.82; stroke-linejoin: miter; stroke-linecap: square; stroke-opacity: 0.44"/>
</g>
<g>
<path d="M 457.920 311.400 L 457.920 295.200" style="fill: none; stroke: #000000; stroke-width: 0.8; stroke-linejoin: miter; stroke-linecap: square"/><path d="M 457.920 311.400 L 457.920 295.200" style="fill: none; stroke: #000000; stroke-width: 0.82; stroke-linejoin: miter; stroke-linecap: square; stroke-opacity: 0.44"/>
</g>
<g>
<path d="M 54.720 311.400 L 457.920 311.400" style="fill: none; stroke: #000000; stroke-width: 0.8; stroke-linejoin: miter; stroke-linecap: square"/><path d="M 54.720 311.400 L 457.920 311.400" style="fill: none; stroke: #000000; stroke-width: 0.82; stroke-linejoin: miter; stroke-linecap: square; stroke-opacity: 0.44"/>
</g>
<g>
<path d="M 54.720 295.200 L 457.920 295.200" style="fill: none; stroke: #000000; stroke-width: 0.8; stroke-linejoin: miter; stroke-linecap: square"/><path d="M 54.720 295.200 L 457.920 295.200" style="fill: none; stroke: #000000; stroke-width: 0.82; stroke-linejoin: miter; stroke-linecap: square; stroke-opacity: 0.44"/>
</g>
<g>
<text style="font-size:12.840px" x="-183.207 -175.201 -167.521 -159.563 -151.672 -143.853 -136.148 -128.305 -120.462 -112.457 -104.776 -96.835 -88.928 -81.247 -73.411 -69.373 -65.340 -60.962 -56.786 -48.614 -40.897 -33.135 -25.110 -13.610 -9.571 -5.538 -1.552 5.324 12.297 19.331 26.301 33.974 41.999 53.567 61.108 68.535 75.472 79.447 87.345 93.974 97.193 103.705 107.866 115.705 122.744 126.331 132.183 139.609 146.546 150.955 154.392 163.123 167.600 175.358" y="0.000" transform="translate(256.356 289.236) rotate(-0) scale(0.974 1)">20250722202102 : random : e_4_homeostasis by Test Step</text>
</g>
<g>
<g>
<path d="M 305.100 306.540
L 451.260 306.540
Q 453.060 306.540 453.060 304.380
L 453.060 199.260
Q 453.060 197.100 451.260 197.100
L 305.100 197.100
Q 303.300 197.100 303.300 199.260
L 303.300 304.380
Q 303.300 306.540 305.100 306.540
z
" style="fill: #ffffff; opacity: 0.8; stroke: #cccccc; stroke-linejoin: miter"/>
</g>
<g>
<path d="M 307.080 205.560 L 317.160 205.560 L 326.880 205.560" style="fill: none; stroke: #1f77b4; stroke-width: 0.8; stroke-linecap: square"/><path d="M 307.080 205.560 L 317.160 205.560 L 326.880 205.560" style="fill: none; stroke: #1f77b4; stroke-width: 0.82; stroke-linecap: square; stroke-opacity: 0.44"/>
</g>
<g>
<text style="font-size:10.700px" x="-0.068 7.026 13.581 21.540 28.663 32.460" y="0.000" transform="translate(334.980 209.004) rotate(-0) scale(0.958 1)">Reward</text>
</g>
<g>
<path d="M 307.080 220.680 L 317.160 220.680 L 326.880 220.680" style="fill: none; stroke: #ff7f0e; stroke-width: 0.8; stroke-linecap: square"/><path d="M 307.080 220.680 L 317.160 220.680 L 326.880 220.680" style="fill: none; stroke: #ff7f0e; stroke-width: 0.82; stroke-linecap: square; stroke-opacity: 0.44"/>
</g>
<g>
<text style="font-size:10.700px" x="-0.231 6.602 12.426 19.102 22.795" y="0.000" transform="translate(334.980 224.084) rotate(-0) scale(0.967 1)">Score</text>
</g>
<g>
<path d="M 307.080 235.800 L 317.160 235.800 L 326.880 235.800" style="fill: none; stroke: #2ca02c; stroke-width: 0.8; stroke-linecap: square"/><path d="M 307.080 235.800 L 317.160 235.800 L 326.880 235.800" style="fill: none; stroke: #2ca02c; stroke-width: 0.82; stroke-linecap: square; stroke-opacity: 0.44"/>
</g>
<g>
<text style="font-size:10.700px" x="-0.068 7.026 13.581 21.540 28.663 32.460" y="0.000" transform="translate(334.980 239.164) rotate(-0) scale(0.958 1)">Reward</text>
</g>
<g>
<path d="M 307.080 250.920 L 317.160 250.920 L 326.880 250.920" style="fill: none; stroke: #d62728; stroke-width: 0.8; stroke-linecap: square"/><path d="M 307.080 250.920 L 317.160 250.920 L 326.880 250.920" style="fill: none; stroke: #d62728; stroke-width: 0.82; stroke-linecap: square; stroke-opacity: 0.44"/>
</g>
<g>
<text style="font-size:10.700px" x="-0.231 6.602 12.426 19.102 22.795" y="0.000" transform="translate(334.980 254.244) rotate(-0) scale(0.967 1)">Score</text>
</g>
<g>
<path d="M 307.080 265.680 L 317.160 265.680 L 326.880 265.680" style="fill: none; stroke: #9467bd; stroke-width: 0.8; stroke-linecap: square"/><path d="M 307.080 265.680 L 317.160 265.680 L 326.880 265.680" style="fill: none; stroke: #9467bd; stroke-width: 0.82; stroke-linecap: square; stroke-opacity: 0.44"/>
</g>
<g>
<text style="font-size:10.700px" x="-0.111 6.483 15.126 24.002" y="0.000" transform="translate(334.980 269.324) rotate(-0) scale(0.909 1)">FOOD</text>
</g>
<g>
<path d="M 307.080 280.800 L 317.160 280.800 L 326.880 280.800" style="fill: none; stroke: #8c564b; stroke-width: 0.8; stroke-linecap: square"/><path d="M 307.080 280.800 L 317.160 280.800 L 326.880 280.800" style="fill: none; stroke: #8c564b; stroke-width: 0.82; stroke-linecap: square; stroke-opacity: 0.44"/>
</g>
<g>
<text style="font-size:10.700px" x="-0.016 6.784 15.671 24.794 32.833 39.133 47.288 54.420 61.110 64.285 72.324 75.460 82.968 91.079 98.617" y="0.000" transform="translate(334.980 284.404) rotate(-0) scale(0.884 1)">FOOD_DEFICIENCY</text>
</g>
<g>
<path d="M 307.080 296.280 L 317.160 296.280 L 326.880 296.280" style="fill: none; stroke: #e377c2; stroke-width: 0.8; stroke-linecap: square"/><path d="M 307.080 296.280 L 317.160 296.280 L 326.880 296.280" style="fill: none; stroke: #e377c2; stroke-width: 0.82; stroke-linecap: square; stroke-opacity: 0.44"/>
</g>
<g>
<text style="font-size:10.700px" x="-0.141 6.389 14.956 23.755 31.544 37.346 45.743 52.884 60.018 67.420 74.733 81.251 87.958 91.203 97.722 104.428 107.647 116.294" y="0.000" transform="translate(334.980 299.844) rotate(-0) scale(0.917 1)">FOOD_OVERSATIATION</text>
</g>
</g>
</g>
</g>
<defs>
<clipPath id="p5f2e82f7fc">
<rect x="54.792" y="69.804" width="403.128" height="16.56"/>
</clipPath>
<clipPath id="pecbc75f15b">
<rect x="54.792" y="295.236" width="403.128" height="16.128"/>
</clipPath>
</defs>
</svg>

</body></html>
